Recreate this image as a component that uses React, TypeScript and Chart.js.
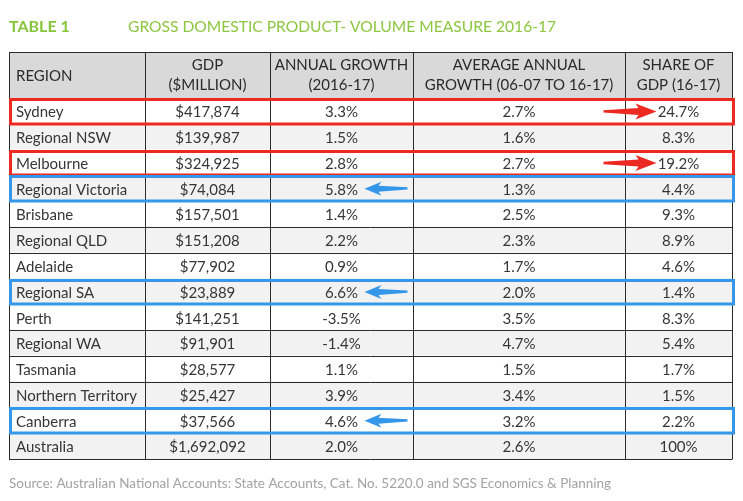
import React, { useEffect, useRef } from "react";
import { Chart, registerables } from "chart.js";

Chart.register(...registerables);

const titleLabel = "TABLE 1";
const titleText = "GROSS DOMESTIC PRODUCT- VOLUME MEASURE 2016-17";
const sourceText =
  "Source: Australian National Accounts: State Accounts, Cat. No. 5220.0 and SGS Economics & Planning";

const headers: string[][] = [
  ["REGION"],
  ["GDP", "($MILLION)"],
  ["ANNUAL GROWTH", "(2016-17)"],
  ["AVERAGE ANNUAL", "GROWTH (06-07 TO 16-17)"],
  ["SHARE OF", "GDP (16-17)"],
];

const regions = [
  "Sydney",
  "Regional NSW",
  "Melbourne",
  "Regional Victoria",
  "Brisbane",
  "Regional QLD",
  "Adelaide",
  "Regional SA",
  "Perth",
  "Regional WA",
  "Tasmania",
  "Northern Territory",
  "Canberra",
  "Australia",
];
const gdpMillion = [
  417874, 139987, 324925, 74084, 157501, 151208, 77902, 23889, 141251, 91901,
  28577, 25427, 37566, 1692092,
];
const annualGrowth = [3.3, 1.5, 2.8, 5.8, 1.4, 2.2, 0.9, 6.6, -3.5, -1.4, 1.1, 3.9, 4.6, 2.0];
const avgGrowth = [2.7, 1.6, 2.7, 1.3, 2.5, 2.3, 1.7, 2.0, 3.5, 4.7, 1.5, 3.4, 3.2, 2.6];
const shareGdp = [24.7, 8.3, 19.2, 4.4, 9.3, 8.9, 4.6, 1.4, 8.3, 5.4, 1.7, 1.5, 2.2, 100];

const redRows = ["Sydney", "Melbourne"];
const blueRows = ["Regional Victoria", "Regional SA", "Canberra"];

// layout (column edges in table units)
const colEdges = [0, 136, 261, 404, 616, 723];

const FONT = "Lato, 'Open Sans', sans-serif";
const TEXT = "#363636";
const RED = "#ec2a22";
const BLUE = "#3497ea";

const fmtMoney = (v: number) => "$" + v.toLocaleString("en-US");
const fmtPct = (v: number) => (v === 100 ? "100%" : v.toFixed(1) + "%");

const tablePlugin = {
  id: "tablePlugin",
  afterDatasetsDraw(chart: any) {
    const ctx = chart.ctx as CanvasRenderingContext2D;
    const xs = chart.scales.x;
    const ys = chart.scales.y;
    const area = chart.chartArea;
    const ex = colEdges.map((e) => xs.getPixelForValue(e));
    const left = ex[0];
    const right = ex[ex.length - 1];
    const headTop = 52;
    const n = regions.length;
    const rowH = ys.getPixelForValue(1) - ys.getPixelForValue(0);
    const rowTop = (i: number) => ys.getPixelForValue(i) - rowH / 2;

    ctx.save();
    // Title
    ctx.textBaseline = "middle";
    ctx.textAlign = "left";
    ctx.fillStyle = "#86c43a";
    ctx.font = `bold 16px ${FONT}`;
    ctx.fillText(titleLabel, 9, 27);
    ctx.fillStyle = "#8dc640";
    ctx.font = `15.6px ${FONT}`;
    ctx.fillText(titleText, 128, 27);

    // header background
    ctx.fillStyle = "#d9d9d9";
    ctx.fillRect(left, headTop, right - left, area.top - headTop);

    // header text
    ctx.fillStyle = "#2a2a2a";
    ctx.font = `15px ${FONT}`;
    const hMid = (headTop + area.top) / 2;
    headers.forEach((lines, c) => {
      if (c === 0) {
        ctx.textAlign = "left";
        ctx.fillText(lines[0], left + 7, hMid + 1);
      } else {
        ctx.textAlign = "center";
        const cx = (ex[c] + ex[c + 1]) / 2;
        ctx.fillText(lines[0], cx, hMid - 10);
        ctx.fillText(lines[1], cx, hMid + 10);
      }
    });

    // cell text
    ctx.fillStyle = TEXT;
    ctx.font = `15px ${FONT}`;
    for (let i = 0; i < n; i++) {
      const cy = ys.getPixelForValue(i) + 1.5;
      ctx.textAlign = "left";
      ctx.fillText(regions[i], left + 7, cy);
      ctx.textAlign = "center";
      const vals = [fmtMoney(gdpMillion[i]), fmtPct(annualGrowth[i]), fmtPct(avgGrowth[i]), fmtPct(shareGdp[i])];
      vals.forEach((t, k) => {
        ctx.fillText(t, (ex[k + 1] + ex[k + 2]) / 2, cy);
      });
    }

    // grid lines
    ctx.strokeStyle = "#2b2b2b";
    ctx.lineWidth = 1;
    ctx.beginPath();
    const hy = [headTop, area.top];
    for (let i = 1; i <= n; i++) hy.push(rowTop(i));
    hy.forEach((y) => {
      const yy = Math.round(y) + 0.5;
      ctx.moveTo(left, yy);
      ctx.lineTo(right, yy);
    });
    ex.forEach((x) => {
      const xx = Math.round(x) + 0.5;
      ctx.moveTo(xx, headTop);
      ctx.lineTo(xx, Math.round(rowTop(n)) + 0.5);
    });
    ctx.stroke();

    // highlight boxes
    ctx.lineWidth = 3;
    for (let i = 0; i < n; i++) {
      const isRed = redRows.includes(regions[i]);
      const isBlue = blueRows.includes(regions[i]);
      if (!isRed && !isBlue) continue;
      const t = Math.round(rowTop(i)) + 1.5;
      const b = Math.round(rowTop(i + 1)) + 0;
      ctx.strokeStyle = isRed ? RED : BLUE;
      ctx.strokeRect(left + 1.5, t, right - left, b - t);
      const cy = ys.getPixelForValue(i) + 0.5;
      ctx.fillStyle = isRed ? RED : BLUE;
      ctx.beginPath();
      if (isRed) {
        const cx = (ex[4] + ex[5]) / 2;
        const tip = cx - 22;
        ctx.moveTo(tip - 53, cy - 1.2);
        ctx.lineTo(tip - 18, cy - 3.5);
        ctx.lineTo(tip - 21, cy - 8);
        ctx.lineTo(tip, cy);
        ctx.lineTo(tip - 21, cy + 8);
        ctx.lineTo(tip - 18, cy + 3.5);
        ctx.lineTo(tip - 53, cy + 1.2);
      } else {
        const cx = (ex[2] + ex[3]) / 2;
        const tip = cx + 23;
        ctx.moveTo(tip, cy);
        ctx.lineTo(tip + 17, cy - 7);
        ctx.lineTo(tip + 14, cy - 3);
        ctx.lineTo(tip + 43, cy - 1.5);
        ctx.lineTo(tip + 43, cy + 0.8);
        ctx.lineTo(tip + 14, cy + 3);
        ctx.lineTo(tip + 17, cy + 7);
      }
      ctx.closePath();
      ctx.fill();
    }

    // source
    ctx.textAlign = "left";
    ctx.fillStyle = "#a3a3a3";
    ctx.font = `13.5px ${FONT}`;
    ctx.fillText(sourceText, 9, 484);
    ctx.restore();
  },
};

export default function App() {
  const ref = useRef<HTMLCanvasElement | null>(null);
  useEffect(() => {
    if (!ref.current) return;
    const chart = new Chart(ref.current, {
      type: "bar",
      data: {
        labels: regions,
        datasets: [
          {
            label: "rows",
            data: regions.map(() => [colEdges[0], colEdges[colEdges.length - 1]] as any),
            backgroundColor: regions.map((_, i) => (i % 2 === 0 ? "#ffffff" : "#f2f2f2")),
            borderWidth: 0,
            barPercentage: 1,
            categoryPercentage: 1,
          },
        ],
      },
      options: {
        indexAxis: "y",
        responsive: false,
        animation: false,
        events: [],
        layout: { padding: { left: 9, right: 11, top: 98, bottom: 42 } },
        plugins: { legend: { display: false }, tooltip: { enabled: false }, title: { display: false } },
        scales: {
          x: { type: "linear", min: colEdges[0], max: colEdges[colEdges.length - 1], display: false },
          y: { type: "category", display: false, offset: true },
        },
      },
      plugins: [tablePlugin],
    });
    return () => chart.destroy();
  }, []);
  return (
    <div style={{ position: "absolute", left: 0, top: 0, width: 743, height: 501, background: "#fff" }}>
      <canvas ref={ref} width={743} height={501} />
    </div>
  );
}
